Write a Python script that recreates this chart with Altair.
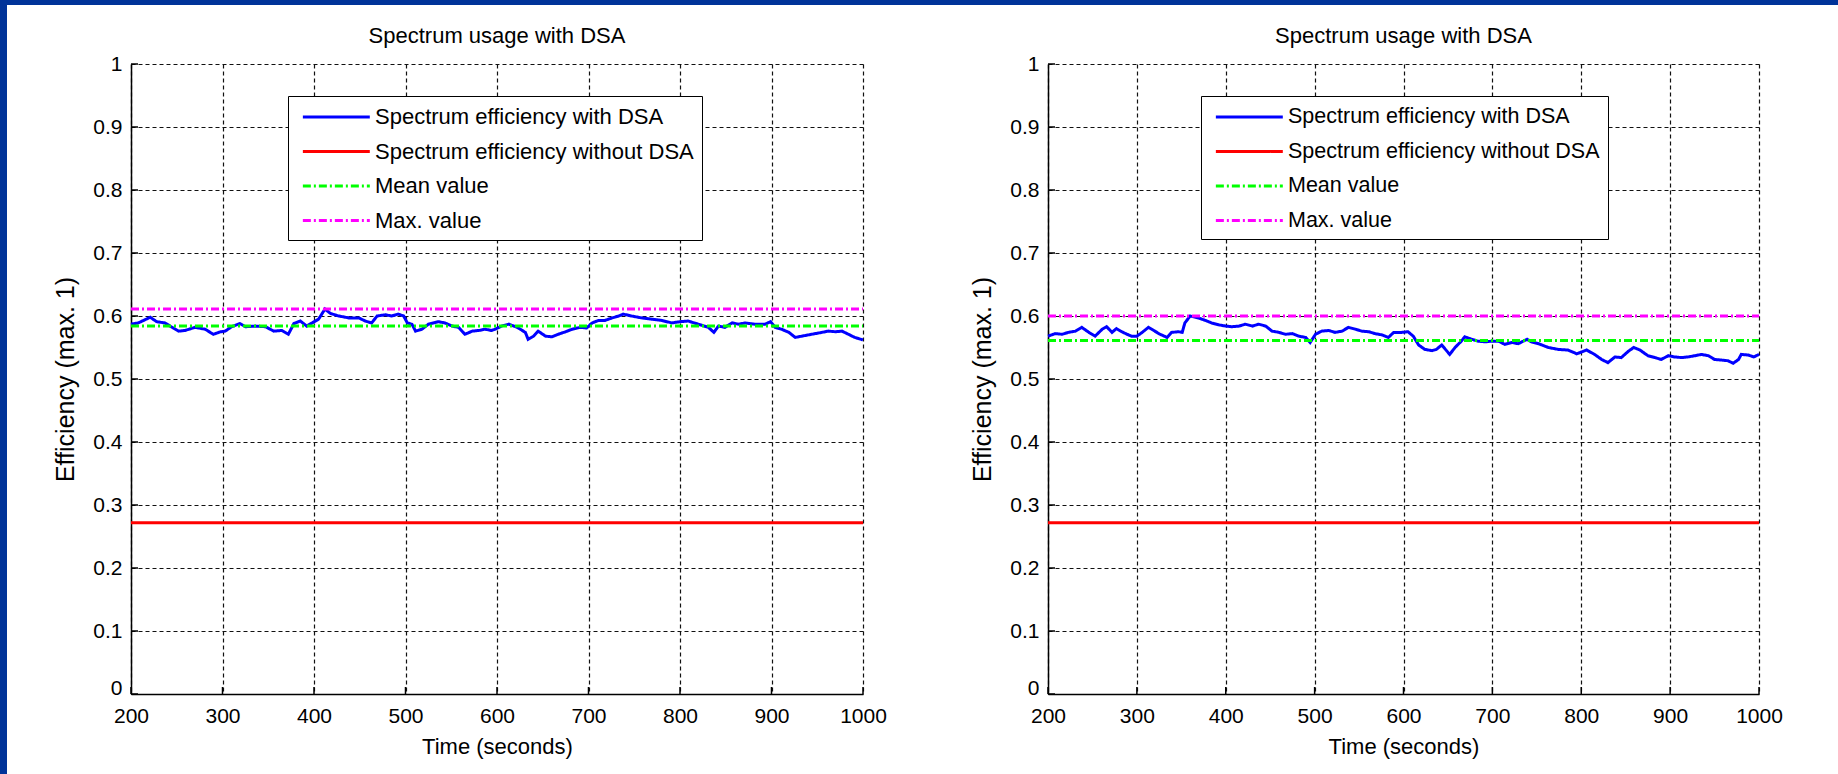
import altair as alt
import pandas as pd

# ---------------- data ----------------
SERIES = ["Spectrum efficiency with DSA", "Spectrum efficiency without DSA",
          "Mean value", "Max. value"]
COLORS = ["#0000ff", "#ff0000", "#00ff00", "#ff00ff"]
DASHES = [[1, 0], [1, 0], [8, 3, 2, 3], [8, 3, 2, 3]]

x_ticks = [200, 300, 400, 500, 600, 700, 800, 900, 1000]
y_ticks = [0, 0.1, 0.2, 0.3, 0.4, 0.5, 0.6, 0.7, 0.8, 0.9, 1.0]

left_time = [200, 208, 221, 228, 237, 245, 252, 259, 270, 281, 290, 298, 303, 310,
             319, 325, 336, 347, 356, 365, 372, 378, 385, 392, 398, 405, 412, 418,
             427, 438, 449, 456, 463, 469, 478, 485, 492, 498, 502, 507, 511, 518,
             525, 536, 543, 551, 558, 565, 573, 580, 587, 594, 598, 605, 613, 622,
             631, 634, 640, 645, 653, 660, 667, 675, 682, 691, 698, 704, 711, 718,
             726, 733, 738, 747, 758, 769, 780, 791, 800, 809, 820, 831, 837, 842,
             849, 857, 864, 871, 882, 893, 899, 904, 911, 919, 926, 933, 944, 955,
             962, 970, 977, 984, 991, 1000]
left_eff = [0.587, 0.589, 0.598, 0.591, 0.589, 0.582, 0.576, 0.577, 0.582, 0.579,
            0.571, 0.575, 0.576, 0.583, 0.588, 0.583, 0.584, 0.583, 0.576, 0.577,
            0.571, 0.588, 0.592, 0.584, 0.589, 0.595, 0.611, 0.604, 0.600, 0.597,
            0.597, 0.592, 0.589, 0.600, 0.602, 0.600, 0.603, 0.600, 0.589, 0.587,
            0.576, 0.579, 0.587, 0.591, 0.589, 0.584, 0.582, 0.571, 0.576, 0.577,
            0.579, 0.577, 0.579, 0.584, 0.587, 0.582, 0.574, 0.563, 0.568, 0.576,
            0.568, 0.567, 0.571, 0.575, 0.579, 0.582, 0.581, 0.589, 0.593, 0.593,
            0.597, 0.600, 0.603, 0.600, 0.597, 0.595, 0.593, 0.589, 0.591, 0.592,
            0.587, 0.582, 0.574, 0.584, 0.582, 0.589, 0.587, 0.589, 0.587, 0.587,
            0.591, 0.582, 0.579, 0.574, 0.566, 0.568, 0.571, 0.574, 0.576, 0.575,
            0.576, 0.571, 0.566, 0.562]
left_without = 0.272
left_mean = 0.584
left_max = 0.611

right_time = [200, 208, 216, 223, 231, 238, 246, 253, 261, 266, 272, 277, 283, 289,
              294, 300, 306, 313, 319, 326, 334, 339, 347, 351, 354, 360, 366, 371,
              377, 384, 392, 400, 407, 415, 422, 430, 437, 445, 452, 460, 467, 475,
              482, 490, 495, 501, 508, 516, 523, 531, 538, 546, 553, 561, 568, 576,
              583, 589, 598, 605, 611, 617, 624, 632, 637, 643, 652, 658, 665, 669,
              677, 684, 692, 699, 707, 714, 722, 729, 739, 744, 752, 763, 774, 785,
              795, 806, 815, 823, 830, 838, 845, 853, 859, 866, 875, 883, 890, 898,
              905, 913, 920, 928, 935, 943, 950, 958, 965, 971, 977, 980, 988, 994,
              1000]
right_eff = [0.568, 0.572, 0.571, 0.574, 0.576, 0.582, 0.574, 0.568, 0.579, 0.583,
             0.574, 0.580, 0.575, 0.571, 0.568, 0.568, 0.574, 0.582, 0.577, 0.571,
             0.566, 0.574, 0.575, 0.574, 0.589, 0.600, 0.598, 0.596, 0.593, 0.589,
             0.586, 0.584, 0.583, 0.584, 0.587, 0.584, 0.587, 0.584, 0.576, 0.574,
             0.571, 0.572, 0.568, 0.566, 0.558, 0.571, 0.576, 0.577, 0.574, 0.576,
             0.582, 0.579, 0.576, 0.575, 0.572, 0.570, 0.566, 0.574, 0.574, 0.575,
             0.568, 0.554, 0.547, 0.545, 0.547, 0.554, 0.539, 0.550, 0.560, 0.567,
             0.563, 0.560, 0.559, 0.560, 0.560, 0.555, 0.558, 0.556, 0.563, 0.559,
             0.556, 0.550, 0.547, 0.546, 0.540, 0.546, 0.539, 0.531, 0.526, 0.535,
             0.534, 0.544, 0.550, 0.546, 0.537, 0.534, 0.531, 0.537, 0.535, 0.534,
             0.535, 0.537, 0.539, 0.537, 0.531, 0.530, 0.529, 0.525, 0.531, 0.539,
             0.538, 0.535, 0.539]
right_without = 0.272
right_mean = 0.561
right_max = 0.600

TITLE = "Spectrum usage with DSA"
X_TITLE = "Time (seconds)"
Y_TITLE = "Efficiency (max. 1)"

# ---------------- styling ----------------
FONT = "'Liberation Sans', Arial, sans-serif"
FRAME_BLUE = "#003399"
PLOT_H = 630
SYM_SIZE = 498                # nominal symbol box = sqrt(size) ~ 22.3 px (r ~ 11.2)
SYM_PATH = "M-0.55,0H5.45"    # legend sample line, 6 * r ~ 67 px long


def make_panel(times, effs, without, mean, mx, width, left_pad, strip_right,
               legend_x, legend_font):
    blue = pd.DataFrame({"time": times, "eff": effs, "series": SERIES[0]})
    flat = pd.DataFrame({
        "time": [x_ticks[0], x_ticks[-1]] * 3,
        "eff": [without, without, mean, mean, mx, mx],
        "series": [SERIES[1]] * 2 + [SERIES[2]] * 2 + [SERIES[3]] * 2,
    })

    legend = alt.Legend(
        orient="none", legendX=legend_x, legendY=32, title=None,
        padding=8, strokeColor="black", fillColor="white", cornerRadius=0,
        symbolType=SYM_PATH, symbolSize=SYM_SIZE, symbolStrokeWidth=3,
        labelFont=FONT, labelFontSize=legend_font, labelColor="black",
        labelOffset=53, labelLimit=600, rowPadding=10.5,
    )
    color = alt.Color("series:N", scale=alt.Scale(domain=SERIES, range=COLORS), legend=legend)
    dash = alt.StrokeDash("series:N", scale=alt.Scale(domain=SERIES, range=DASHES), legend=legend)

    x_axis = alt.Axis(
        values=x_ticks, format="d", ticks=False, labelPadding=11,
        labelFont=FONT, labelFontSize=21, labelColor="black",
        labelFlush=False, labelOverlap=False,
        domainColor="black", domainWidth=1.5,
        grid=True, gridColor="#111111", gridDash=[4, 3], gridWidth=1.2, gridOpacity=1,
        title=X_TITLE, titleFont=FONT, titleFontSize=22, titleFontWeight="normal",
        titleColor="black", titleX=width / 2, titleY=52, titleAlign="center",
        titleBaseline="middle",
    )
    y_axis = alt.Axis(
        values=y_ticks, format=".1~f", ticks=False, labelPadding=9,
        labelFont=FONT, labelFontSize=21, labelColor="black",
        labelOffset=alt.ExprRef("datum.value == 0 ? -6 : 0"),
        labelFlush=False, labelOverlap=False,
        domainColor="black", domainWidth=1.5,
        grid=True, gridColor="#111111", gridDash=[4, 3], gridWidth=1.2, gridOpacity=1,
        title=Y_TITLE, titleFont=FONT, titleFontSize=25, titleFontWeight="normal",
        titleColor="black", titleAngle=270, titleX=-66, titleY=PLOT_H / 2,
        titleAlign="center", titleBaseline="middle",
    )

    def xe():
        return alt.X("time:Q", scale=alt.Scale(domain=[x_ticks[0], x_ticks[-1]], nice=False, zero=False), axis=x_axis)

    def ye():
        return alt.Y("eff:Q", scale=alt.Scale(domain=[0, 1], nice=False), axis=y_axis)

    blue_layer = alt.Chart(blue).mark_line(strokeWidth=3).encode(
        x=xe(), y=ye(), color=color, strokeDash=dash)
    red_layer = alt.Chart(flat[flat.series == SERIES[1]]).mark_line(strokeWidth=3).encode(
        x=xe(), y=ye(), color=color, strokeDash=dash)
    ref_layer = alt.Chart(flat[flat.series != SERIES[1]]).mark_line(strokeWidth=3).encode(
        x=xe(), y=ye(), color=color, strokeDash=dash, detail="series:N")

    # inward tick marks (MATLAB style)
    xt = alt.Chart(pd.DataFrame({"time": x_ticks})).mark_rule(color="black", strokeWidth=1.5).encode(
        x=xe(), y=alt.value(PLOT_H), y2=alt.value(PLOT_H - 7))
    yt = alt.Chart(pd.DataFrame({"eff": y_ticks})).mark_rule(color="black", strokeWidth=1.5).encode(
        y=ye(), x=alt.value(0), x2=alt.value(7))

    # slide frame (blue band along the top, and the left edge for the first panel)
    one = pd.DataFrame({"k": [0]})
    layers = [
        alt.Chart(one).mark_rect(color=FRAME_BLUE).encode(
            x=alt.value(-left_pad), x2=alt.value(strip_right), y=alt.value(-64), y2=alt.value(-59)),
    ]
    if left_pad == 131:
        layers.append(alt.Chart(one).mark_rect(color=FRAME_BLUE).encode(
            x=alt.value(-131), x2=alt.value(-124), y=alt.value(-64), y2=alt.value(710)))

    return alt.layer(
        *layers, xt, yt, blue_layer, red_layer, ref_layer
    ).properties(
        width=width, height=PLOT_H,
        title=alt.TitleParams(TITLE, font=FONT, fontSize=22, fontWeight="normal",
                              color="black", anchor="middle", frame="group", offset=0, dy=48),
    )


left = make_panel(left_time, left_eff, left_without, left_mean, left_max,
                  width=732, left_pad=131, strip_right=760, legend_x=157, legend_font=22)
right = make_panel(right_time, right_eff, right_without, right_mean, right_max,
                   width=711, left_pad=157, strip_right=790, legend_x=153, legend_font=21.5)

chart = alt.hconcat(left, right, spacing=0).resolve_scale(
    color="independent", strokeDash="independent"
).resolve_legend(
    color="independent", strokeDash="independent"
).properties(
    padding=0, background="white"
).configure_view(stroke=None)

chart.save("out.html", embed_options={"renderer": "svg", "actions": False})
